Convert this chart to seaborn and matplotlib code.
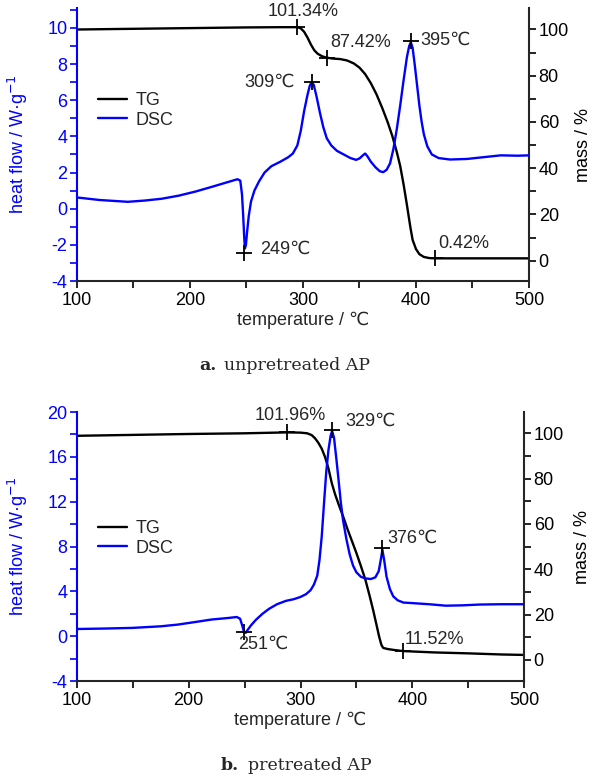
import matplotlib
matplotlib.use("Agg")
import matplotlib.pyplot as plt
import seaborn as sns
import pandas as pd
from matplotlib.ticker import MultipleLocator

# ---- panel a: unpretreated AP ----
a_dsc_t = [100, 110, 120, 135, 145, 160, 175, 190, 205, 220, 235, 242, 244.5, 246, 247, 248, 248.6,
           249.5, 250.5, 252, 254, 257, 261, 266, 272, 280, 287, 291, 295, 298, 301, 304, 306, 307.6,
           309.5, 312, 315, 318, 321, 325, 330, 336, 342, 347, 350, 353, 355, 357, 360, 364, 368, 371,
           374, 377, 380, 383, 386, 389, 392, 394, 395.4, 397, 399, 401, 403, 405, 407, 410, 414, 420,
           430, 445, 460, 475, 490, 500]
a_dsc_h = [0.62, 0.55, 0.48, 0.42, 0.38, 0.45, 0.55, 0.72, 0.95, 1.22, 1.5, 1.63, 1.55, 0.8, -0.3, -1.6,
           -2.2, -2.0, -1.3, -0.4, 0.4, 1.0, 1.5, 2.0, 2.35, 2.6, 2.85, 3.05, 3.5, 4.3, 5.4, 6.3, 6.8, 7.0,
           6.85, 6.2, 5.3, 4.5, 3.9, 3.5, 3.2, 3.0, 2.8, 2.7, 2.78, 2.95, 3.05, 2.9, 2.6, 2.3, 2.07, 2.02,
           2.15, 2.5, 3.3, 4.4, 5.7, 7.1, 8.4, 9.0, 9.2, 8.9, 7.9, 6.8, 5.7, 4.8, 4.1, 3.45, 3.0, 2.8,
           2.72, 2.75, 2.85, 2.95, 2.93, 2.95]
a_tg_t = [100, 150, 200, 250, 280, 295, 298, 301, 304, 307, 310, 313, 317, 321, 327, 333, 339, 345, 350,
          355, 360, 365, 370, 375, 379, 383, 386, 389, 392, 395, 397, 400, 403, 407, 412, 417, 440, 470, 500]
a_tg_m = [100.0, 100.3, 100.6, 100.9, 101.0, 101.0, 100.5, 99.0, 96.5, 93.5, 91.0, 89.5, 88.4, 87.8, 87.4,
          87.2, 86.6, 85.3, 83.5, 80.7, 76.8, 72.0, 66.2, 59.8, 54.0, 47.0, 41.0, 33.0, 24.0, 14.5, 9.0,
          5.0, 2.8, 1.6, 1.1, 1.0, 1.0, 1.0, 1.0]
a_tg_mark_t = [294.9, 320.9, 417]
a_tg_mark_m = [101.0, 87.7, 1.0]
a_tg_mark_lbl = ["101.34%", "87.42%", "0.42%"]
a_dsc_mark_t = [248.1, 307.6, 395.4]
a_dsc_mark_h = [-2.45, 7.03, 9.29]
a_dsc_mark_lbl = ["249℃", "309℃", "395℃"]

# ---- panel b: pretreated AP ----
b_dsc_t = [100, 125, 150, 175, 190, 205, 220, 235, 243, 246, 248, 249.5, 251, 253, 256, 260, 266, 272,
           279, 287, 294, 300, 305, 309, 312, 315, 317, 319, 321, 323, 325, 327, 328.3, 330, 332, 334,
           336, 338, 341, 344, 347, 350, 354, 358, 363, 367, 370, 372, 373.3, 375, 377, 380, 383, 387,
           392, 400, 415, 430, 445, 460, 480, 500]
b_dsc_h = [0.64, 0.68, 0.74, 0.88, 1.03, 1.25, 1.48, 1.62, 1.71, 1.55, 0.9, 0.35, 0.3, 0.6, 1.0, 1.45,
           2.0, 2.45, 2.85, 3.15, 3.3, 3.5, 3.75, 4.1, 4.6, 5.4, 6.8, 8.9, 11.8, 14.6, 16.6, 17.9, 18.3,
           17.7, 15.9, 14.0, 12.0, 10.4, 8.7, 7.3, 6.3, 5.7, 5.3, 5.15, 5.1, 5.25, 5.8, 6.9, 7.7, 6.7,
           5.3, 4.2, 3.55, 3.2, 3.0, 2.95, 2.85, 2.72, 2.75, 2.82, 2.85, 2.85]
b_tg_t = [100, 150, 200, 250, 288, 300, 306, 310, 313, 316, 319, 322, 325, 328, 331, 334, 338, 342, 346,
          350, 354, 358, 362, 365, 368, 370.5, 372.5, 374, 378, 385, 392, 420, 450, 480, 500]
b_tg_m = [98.9, 99.3, 99.7, 100.0, 100.4, 100.3, 100.0, 99.2, 97.8, 95.8, 93.2, 89.5, 84.5, 78.0, 73.0,
          68.8, 63.5, 57.8, 52.5, 47.2, 41.5, 35.5, 28.0, 22.0, 15.5, 10.0, 6.5, 5.3, 4.8, 4.3, 3.9, 3.3,
          2.9, 2.4, 2.2]
b_tg_mark_t = [287.7, 392]
b_tg_mark_m = [100.4, 3.9]
b_tg_mark_lbl = ["101.96%", "11.52%"]
b_dsc_mark_t = [249.5, 328, 373.2]
b_dsc_mark_h = [0.34, 18.4, 7.87]
b_dsc_mark_lbl = ["251℃", "329℃", "376℃"]

sns.set_style("white")
SANS = ["Liberation Sans", "DejaVu Sans"]
plt.rcParams["font.family"] = SANS
plt.rcParams["axes.unicode_minus"] = False
FS = 13
BLUE = "#0000ff"

fig = plt.figure(figsize=(5.93, 7.8), dpi=100)


def panel(rect, dsc_t, dsc_h, tg_t, tg_m, ylim_l, ylim_r, major_l, leg_y,
          tg_marks, dsc_marks, tg_offs, dsc_offs, rpad):
    ax = fig.add_axes(rect)
    ax2 = ax.twinx()
    d1 = pd.DataFrame({"t": tg_t, "m": tg_m})
    d2 = pd.DataFrame({"t": dsc_t, "h": dsc_h})
    sns.lineplot(data=d2, x="t", y="h", ax=ax, color=BLUE, lw=1.7, sort=False, label="DSC", legend=False)
    sns.lineplot(data=d1, x="t", y="m", ax=ax2, color="black", lw=1.7, sort=False, label="TG", legend=False)

    ax.set_xlim(100, 500)
    ax.set_ylim(*ylim_l)
    ax2.set_ylim(*ylim_r)
    ax.xaxis.set_major_locator(MultipleLocator(100))
    ax.xaxis.set_minor_locator(MultipleLocator(50))
    ax.yaxis.set_major_locator(MultipleLocator(major_l))
    ax.yaxis.set_minor_locator(MultipleLocator(major_l / 2))
    ax2.yaxis.set_major_locator(MultipleLocator(20))
    ax2.yaxis.set_minor_locator(MultipleLocator(10))

    for s in ["top", "right"]:
        ax.spines[s].set_visible(False)
    for s in ["top", "left", "bottom"]:
        ax2.spines[s].set_visible(False)
    ax.spines["left"].set_color(BLUE)
    ax.spines["left"].set_linewidth(1.5)
    ax.spines["bottom"].set_linewidth(1.5)
    ax2.spines["right"].set_linewidth(1.5)

    ax.tick_params(axis="x", which="both", direction="out", length=5, width=1.2,
                   bottom=True, labelsize=FS, colors="black", pad=3)
    ax.tick_params(axis="y", which="both", direction="out", length=5, width=1.2,
                   left=True, labelsize=FS, colors=BLUE, pad=2)
    ax2.tick_params(axis="y", which="both", direction="out", length=5, width=1.2,
                    right=True, labelsize=FS, colors="black", pad=2)

    ax.set_xlabel("temperature / ℃", fontsize=FS, labelpad=2)
    ax.set_ylabel("heat flow / W·g$^{-1}$", fontsize=FS, color=BLUE, labelpad=12)
    ax2.set_ylabel("mass / %", fontsize=FS, color="black", labelpad=rpad)

    # markers and labels
    for (t, v, lbl), (dx, dy, ha) in zip(zip(*tg_marks), tg_offs):
        ax2.plot(t, v, marker="+", ms=12, mew=1.3, color="black")
        ax2.annotate(lbl, (t, v), xytext=(dx, dy), textcoords="offset pixels",
                     ha=ha, va="center", fontsize=FS)
    for (t, v, lbl), (dx, dy, ha) in zip(zip(*dsc_marks), dsc_offs):
        ax.plot(t, v, marker="+", ms=12, mew=1.3, color="black")
        ax.annotate(lbl, (t, v), xytext=(dx, dy), textcoords="offset pixels",
                    ha=ha, va="center", fontsize=FS)

    h1, l1 = ax2.get_legend_handles_labels()
    h2, l2 = ax.get_legend_handles_labels()
    ax.legend(h1 + h2, l1 + l2, loc="center left", bbox_to_anchor=(0.03, leg_y),
              frameon=False, fontsize=FS, handlelength=1.6, handletextpad=0.5,
              labelspacing=0.15, borderaxespad=0)
    ax.set_zorder(ax2.get_zorder() + 1)
    ax.patch.set_visible(False)
    return ax


panel([77 / 593, 1 - 281 / 780, 452 / 593, 273 / 780],
      a_dsc_t, a_dsc_h, a_tg_t, a_tg_m, (-4, 11.1), (-8.8, 109.3), 2, 0.625,
      (a_tg_mark_t, a_tg_mark_m, a_tg_mark_lbl),
      (a_dsc_mark_t, a_dsc_mark_h, a_dsc_mark_lbl),
      [(6, 16, "center"), (4, 15, "left"), (3, 15, "left")],
      [(16, 4, "left"), (-17, -1, "right"), (10, 0, "left")], 4)

panel([77 / 593, 1 - 681 / 780, 447 / 593, 269 / 780],
      b_dsc_t, b_dsc_h, b_tg_t, b_tg_m, (-4, 20), (-9.3, 109.4), 4, 0.53,
      (b_tg_mark_t, b_tg_mark_m, b_tg_mark_lbl),
      (b_dsc_mark_t, b_dsc_mark_h, b_dsc_mark_lbl),
      [(3, 17, "center"), (1, 12, "left")],
      [(-6, -12, "left"), (14, 9, "left"), (5, 10, "left")], 7)

# captions
SERIF = ["DejaVu Serif"]
fig.text(216 / 593, 1 - 366 / 780, "a.", fontsize=12.5, fontweight="bold", family=SERIF, ha="right", va="center")
fig.text(224 / 593, 1 - 366 / 780, "unpretreated AP", fontsize=12.5, family=SERIF, ha="left", va="center")
fig.text(239 / 593, 1 - 765 / 780, "b.", fontsize=12.5, fontweight="bold", family=SERIF, ha="right", va="center")
fig.text(248 / 593, 1 - 765 / 780, "pretreated AP", fontsize=12.5, family=SERIF, ha="left", va="center")

fig.savefig("out.png", dpi=100)
